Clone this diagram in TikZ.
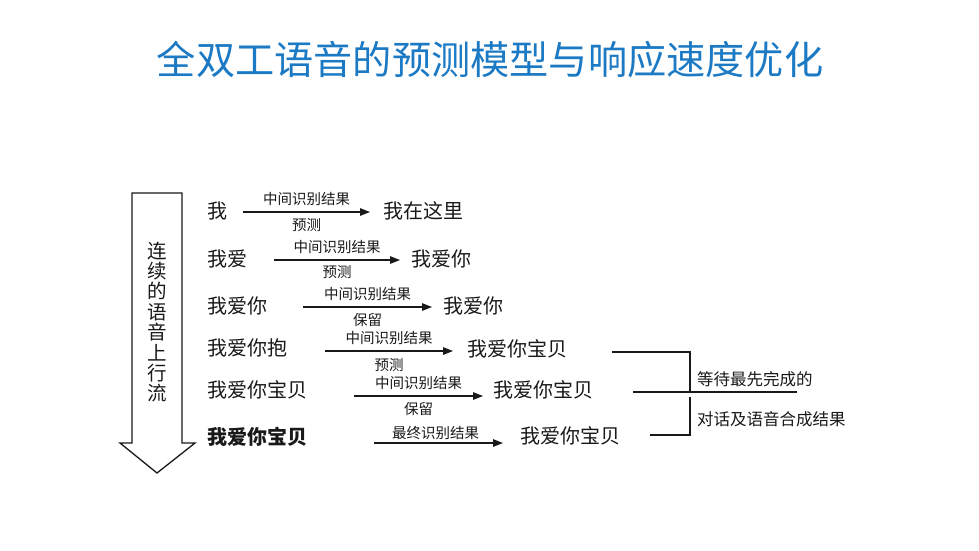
\documentclass[tikz,border=0pt]{standalone}
\usepackage{fontspec}
\setmainfont{Noto Sans CJK SC}
\usetikzlibrary{arrows.meta}
\definecolor{titleblue}{RGB}{28,122,196}
\definecolor{ink}{RGB}{25,25,25}
\begin{document}
\begin{tikzpicture}[x=1pt,y=-1pt,
  txt/.style={inner sep=0pt,anchor=west,text=ink,font=\fontsize{20}{20}\selectfont},
  lab/.style={inner sep=0pt,text=ink,font=\fontsize{14.5}{15}\selectfont},
  side/.style={inner sep=0pt,anchor=west,text=ink,font=\fontsize{16.5}{17}\selectfont},
  arr/.style={line width=1.3pt,draw=ink,-{Triangle[length=10pt,width=7.5pt]}},
  ln/.style={line width=1.1pt,draw=ink}]
\useasboundingbox (0,0) rectangle (979,550);

% title
\node[inner sep=0pt,text=titleblue,font=\fontsize{39.2}{40}\selectfont] (title) at (490,60) {全双工语音的预测模型与响应速度优化};

% big down arrow
\draw[line width=1.3pt,draw=ink,fill=white] (132,193) -- (182,193) -- (182,443) -- (195,443) -- (157,473) -- (120,443) -- (132,443) -- cycle;
\node[inner sep=0pt,align=center,text=ink,font=\fontsize{19.5}{20.4}\selectfont] (vt) at (157,322) {连\\续\\的\\语\\音\\上\\行\\流};

% source texts
\node[txt] (s1) at (207,211) {我};
\node[txt] (s2) at (207,259) {我爱};
\node[txt] (s3) at (207,306) {我爱你};
\node[txt] (s4) at (207,348) {我爱你抱};
\node[txt] (s5) at (207,390) {我爱你宝贝};
\node[txt,font=\fontsize{20}{20}\selectfont\bfseries] (s6) at (207,437) {我爱你宝贝};

% results
\node[txt] (r1) at (383,211) {我在这里};
\node[txt] (r2) at (411,259) {我爱你};
\node[txt] (r3) at (443,306) {我爱你};
\node[txt] (r4) at (467,349) {我爱你宝贝};
\node[txt] (r5) at (493,390) {我爱你宝贝};
\node[txt] (r6) at (520,436) {我爱你宝贝};

% arrow end points
\coordinate (a1s) at (243,212); \coordinate (a1e) at (370,212);
\coordinate (a2s) at (274,260); \coordinate (a2e) at (400,260);
\coordinate (a3s) at (303,307); \coordinate (a3e) at (432,307);
\coordinate (a4s) at (325,351); \coordinate (a4e) at (453,351);
\coordinate (a5s) at (354,396); \coordinate (a5e) at (483,396);
\coordinate (a6s) at (374,443); \coordinate (a6e) at (503,443);

\draw[arr] (a1s) -- node[lab,above=6pt] (l1a) {中间识别结果} node[lab,below=6pt] (l1b) {预测} (a1e);
\draw[arr] (a2s) -- node[lab,above=6pt] (l2a) {中间识别结果} node[lab,below=5pt] (l2b) {预测} (a2e);
\draw[arr] (a3s) -- node[lab,above=6pt] (l3a) {中间识别结果} node[lab,below=6pt] (l3b) {保留} (a3e);
\draw[arr] (a4s) -- node[lab,above=6pt] (l4a) {中间识别结果} node[lab,below=7pt] (l4b) {预测} (a4e);
\draw[arr] (a5s) -- node[lab,above=6pt] (l5a) {中间识别结果} node[lab,below=6pt] (l5b) {保留} (a5e);
\draw[arr] (a6s) -- node[lab,above=3pt,xshift=-3pt] (l6a) {最终识别结果} (a6e);

% bracket
\coordinate (b1) at (612,352); \coordinate (b2) at (690,352); \coordinate (b3) at (690,392);
\coordinate (m1) at (633,392); \coordinate (m2) at (797,392);
\coordinate (c1) at (690,397); \coordinate (c2) at (690,435); \coordinate (c3) at (650,435);
\draw[ln] (b1) -- (b2) -- (b3);
\draw[ln] (m1) -- (m2);
\draw[ln] (c1) -- (c2) -- (c3);

\node[side] (t1) at (697,379) {等待最先完成的};
\node[side] (t2) at (697,419) {对话及语音合成结果};
\end{tikzpicture}
\end{document}
